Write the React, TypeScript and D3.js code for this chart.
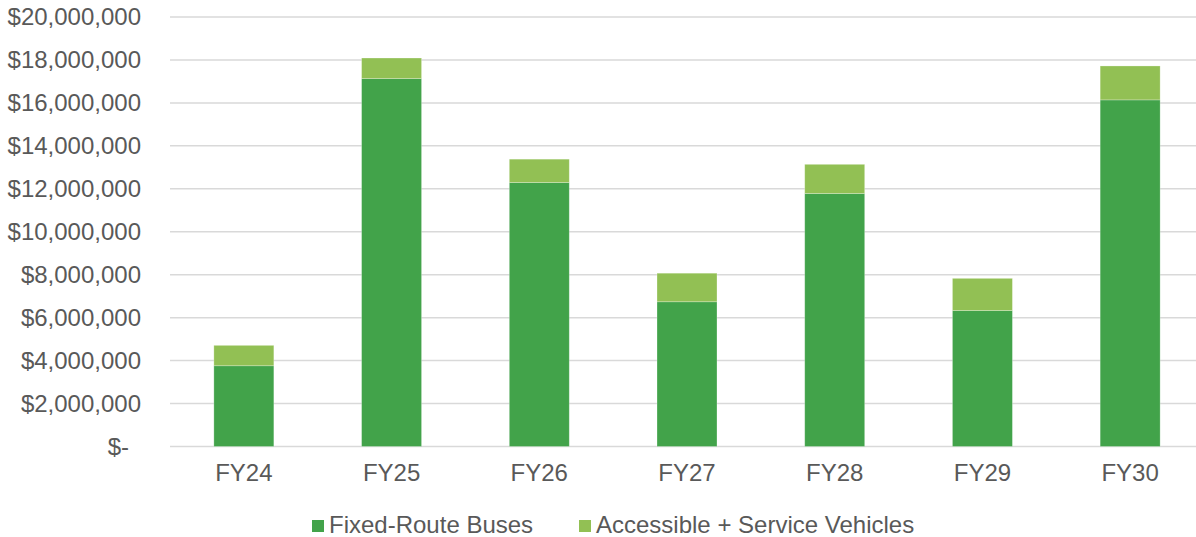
import React from "react";
import * as d3 from "d3";

const categories = ["FY24", "FY25", "FY26", "FY27", "FY28", "FY29", "FY30"];
const fixedRoute = [3760000, 17130000, 12290000, 6740000, 11780000, 6330000, 16140000];
const accessible = [950000, 960000, 1090000, 1330000, 1360000, 1500000, 1580000];
const yTicks = [0, 2000000, 4000000, 6000000, 8000000, 10000000, 12000000, 14000000, 16000000, 18000000, 20000000];
const seriesNames = ["Fixed-Route Buses", "Accessible + Service Vehicles"];
const colors = ["#42A34A", "#92C054"];

const W = 1196;
const H = 537;

export default function App() {
  const x = d3.scaleBand<string>().domain(categories).range([170, 1204]).paddingInner(0.594).paddingOuter(0.297);
  const y = d3.scaleLinear().domain([0, 20000000]).range([446.5, 17]);
  const fmt = (v: number) => (v === 0 ? "$-" : "$" + d3.format(",")(v));
  const font = "'Liberation Sans', Arial, sans-serif";
  const textColor = "#595959";

  const data = categories.map((c, i) => ({ c, a: fixedRoute[i], b: accessible[i] }));
  const stack = d3.stack<any>().keys(["a", "b"])(data);

  return (
    <svg width={W} height={H} style={{ position: "absolute", left: 0, top: 0, background: "#fff" }} fontFamily={font}>
      {yTicks.map((t) => (
        <g key={t}>
          <line x1={170} x2={1196} y1={y(t)} y2={y(t)} stroke="#D9D9D9" strokeWidth={1.5} />
          <text x={t === 0 ? 129 : 141} y={y(t)} dy="0.35em" textAnchor="end" fontSize={24} fill={textColor}>
            {fmt(t)}
          </text>
        </g>
      ))}
      {stack.map((s, si) => (
        <g key={si}>
          {s.map((d: any, i: number) => (
            <rect
              key={i}
              x={x(categories[i])}
              width={x.bandwidth()}
              y={y(d[1])}
              height={y(d[0]) - y(d[1])}
              fill={colors[si]}
              stroke="#ffffff"
              strokeOpacity={0.35}
              strokeWidth={0.75}
            />
          ))}
        </g>
      ))}
      {categories.map((c) => (
        <text key={c} x={(x(c) as number) + x.bandwidth() / 2} y={481} textAnchor="middle" fontSize={24} fill={textColor}>
          {c}
        </text>
      ))}
      <g>
        <rect x={312} y={520} width={12} height={12} fill={colors[0]} />
        <text x={329} y={533} fontSize={24} fill={textColor}>{seriesNames[0]}</text>
        <rect x={579} y={520} width={12} height={12} fill={colors[1]} />
        <text x={596} y={533} fontSize={24} fill={textColor}>{seriesNames[1]}</text>
      </g>
    </svg>
  );
}
